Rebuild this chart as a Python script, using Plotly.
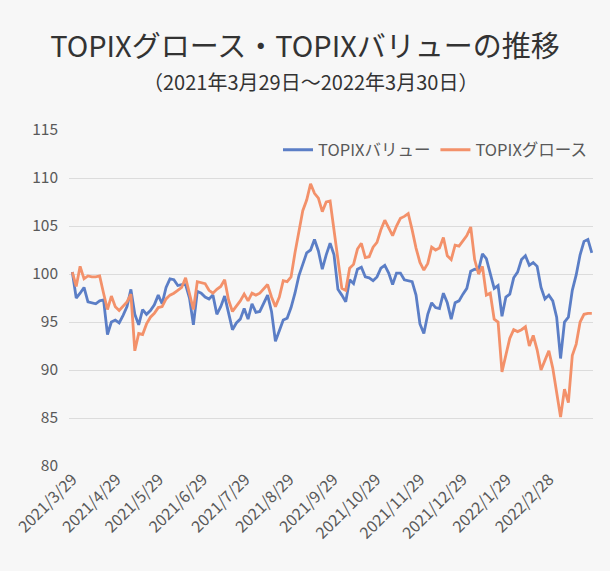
import numpy as np
import pandas as pd
import plotly.graph_objects as go

# Sample dates (evenly spaced samples across the period)
start_date = "2021-03-29"
end_date = "2022-03-30"

value_series = [
    100.2, 97.5, 98.0, 98.6, 97.1, 97.0, 96.9, 97.2, 97.3, 93.7,
    95.0, 95.2, 94.9, 95.7, 96.6, 98.4, 95.8, 94.7, 96.3, 95.8,
    96.2, 96.8, 97.8, 96.9, 98.6, 99.5, 99.4, 98.8, 98.9, 98.9,
    97.5, 94.7, 98.2, 98.0, 97.6, 97.4, 97.8, 95.8, 96.6, 97.7,
    96.0, 94.2, 94.9, 95.3, 96.4, 95.3, 96.9, 96.0, 96.1, 97.0,
    97.8, 96.1, 93.0, 94.1, 95.2, 95.4, 96.5, 98.0, 99.8, 101.0,
    102.2, 102.5, 103.6, 102.4, 100.5, 102.0, 103.2, 102.0, 98.4, 97.8,
    97.1, 99.4, 99.0, 100.5, 100.7, 99.7, 99.6, 99.3, 99.7, 100.6,
    100.9, 100.1, 98.9, 100.1, 100.1, 99.4, 99.3, 99.2, 97.8, 94.8,
    93.8, 95.8, 97.0, 96.5, 96.4, 98.0, 97.0, 95.3, 97.0, 97.2,
    97.9, 98.5, 100.3, 100.5, 100.4, 102.1, 101.6, 100.0, 98.5, 98.8,
    95.6, 97.6, 97.9, 99.6, 100.2, 101.5, 101.9, 100.9, 101.2, 100.8,
    98.6, 97.4, 97.8, 97.2, 95.5, 91.2, 95.0, 95.5, 98.3, 99.9,
    102.0, 103.4, 103.6, 102.2,
]

growth_series = [
    100.2, 98.7, 100.8, 99.5, 99.8, 99.7, 99.7, 99.8, 98.0, 96.3,
    97.7, 96.6, 96.2, 96.7, 97.1, 97.9, 92.0, 93.8, 93.7, 94.8,
    95.5, 95.9, 96.5, 96.6, 97.4, 97.8, 98.0, 98.3, 98.6, 99.6,
    98.0, 96.3, 99.2, 99.1, 99.0, 98.3, 98.0, 98.4, 98.7, 99.4,
    97.3, 96.1, 96.6, 97.2, 97.9, 97.2, 98.0, 97.8, 98.0, 98.4,
    98.9, 97.6, 96.6, 97.6, 99.3, 99.2, 99.7, 102.2, 104.4, 106.6,
    107.7, 109.4, 108.4, 107.9, 106.5, 107.5, 107.6, 104.5, 101.5, 98.5,
    98.3, 100.6, 101.0, 102.6, 103.2, 101.7, 101.8, 102.8, 103.3, 104.6,
    105.6, 104.8, 104.0, 105.0, 105.8, 106.0, 106.3, 104.6, 102.7, 101.2,
    100.4, 101.1, 102.8, 102.5, 102.7, 103.8, 101.9, 101.5, 103.0, 102.9,
    103.5, 104.0, 104.9, 101.5, 100.0, 100.8, 97.8, 98.0, 95.3, 95.0,
    89.8, 91.7, 93.3, 94.2, 94.0, 94.2, 94.5, 92.5, 93.6, 92.1,
    90.0, 91.0, 92.0, 90.2, 87.7, 85.1, 88.0, 86.6, 91.5, 92.7,
    95.0, 95.8, 95.9, 95.9,
]

tick_dates = [
    "2021-03-29", "2021-04-29", "2021-05-29", "2021-06-29", "2021-07-29",
    "2021-08-29", "2021-09-29", "2021-10-29", "2021-11-29", "2021-12-29",
    "2022-01-29", "2022-02-28",
]
tick_labels = [
    "2021/3/29", "2021/4/29", "2021/5/29", "2021/6/29", "2021/7/29",
    "2021/8/29", "2021/9/29", "2021/10/29", "2021/11/29", "2021/12/29",
    "2022/1/29", "2022/2/28",
]
y_ticks = [80, 85, 90, 95, 100, 105, 110, 115]

dates = pd.date_range(start_date, end_date, periods=len(value_series))

FONT = "Noto Sans CJK JP"
TXT = "#595959"

fig = go.Figure()
fig.add_trace(go.Scatter(
    x=dates, y=value_series, mode="lines", name="TOPIXバリュー",
    line=dict(color="#5b7ec6", width=2.8),
))
fig.add_trace(go.Scatter(
    x=dates, y=growth_series, mode="lines", name="TOPIXグロース",
    line=dict(color="#f3916a", width=2.8),
))

fig.update_layout(
    width=610, height=571,
    paper_bgcolor="#f7f7f7", plot_bgcolor="#f7f7f7",
    margin=dict(l=58, r=17, t=130, b=105),
    font=dict(family=FONT, color=TXT, size=15),
    title=dict(
        text="TOPIXグロース・TOPIXバリューの推移",
        x=0.5, xanchor="center", xref="container",
        y=1 - 47 / 571, yanchor="middle", yref="container",
        font=dict(family=FONT, size=29, color="#333333"),
    ),
    annotations=[dict(
        text="（2021年3月29日～2022年3月30日）",
        xref="paper", yref="paper", x=(305 - 58) / (610 - 58 - 17), y=(466 - 81) / 336,
        xanchor="center", yanchor="middle", showarrow=False,
        font=dict(family=FONT, size=20, color="#333333"),
    )],
    legend=dict(
        orientation="h", x=1.0, xanchor="right", y=(466 - 150) / 336, yanchor="middle",
        bgcolor="rgba(0,0,0,0)", font=dict(size=16.5, color=TXT),
        itemwidth=30, tracegroupgap=0,
    ),
    showlegend=True,
)

fig.update_xaxes(
    type="date",
    range=["2021-03-26 16:00", "2022-03-30 20:00"],
    tickvals=tick_dates, ticktext=tick_labels, tickangle=-45,
    showgrid=False, zeroline=False, showline=False, ticks="",
    tickfont=dict(size=16, color=TXT, family=FONT),
)
fig.update_yaxes(
    range=[80, 115], tickvals=y_ticks,
    showgrid=True, gridcolor="#dcdcdc", gridwidth=1.3,
    zeroline=False, showline=False, ticks="",
    ticklabelstandoff=10,
    tickfont=dict(size=15.5, color=TXT, family=FONT),
)

fig.write_html(
    "out.html",
    config={"displayModeBar": False},
    post_script="document.body.style.margin='0';document.body.style.background='#f7f7f7';",
)
